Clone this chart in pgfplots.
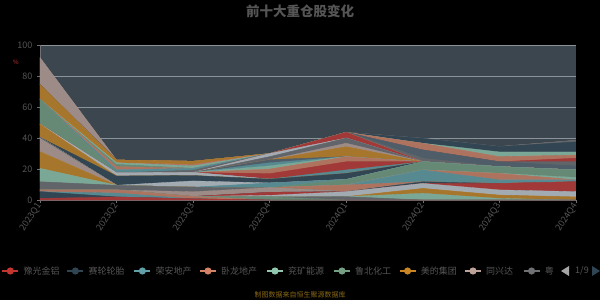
\documentclass[border=0pt]{standalone}
\usepackage{fontspec}
\setmainfont{Noto Sans CJK SC}
\usepackage{pgfplots}
\pgfplotsset{compat=1.18}
\definecolor{bgc}{HTML}{3B464E}
\definecolor{gridc}{HTML}{8A9399}
\definecolor{tickc}{HTML}{555555}
\definecolor{titc}{HTML}{555555}
\definecolor{footc}{HTML}{8B6A16}
\definecolor{c0}{HTML}{C23531}
\definecolor{c1}{HTML}{2F4554}
\definecolor{c2}{HTML}{61A0A8}
\definecolor{c3}{HTML}{D48265}
\definecolor{c4}{HTML}{91C7AE}
\definecolor{c5}{HTML}{749F83}
\definecolor{c6}{HTML}{CA8622}
\definecolor{c7}{HTML}{BDA29A}
\definecolor{c8}{HTML}{6E7074}
\definecolor{c9}{HTML}{546570}
\definecolor{c10}{HTML}{C4CCD3}
\newcommand\ser[9]{\addplot[fill=#1!75!bgc, draw=#1!85!bgc, line width=0.3pt] coordinates {(0,#2)(1,#3)(2,#4)(3,#5)(4,#6)(5,#7)(6,#8)(7,#9)} \closedcycle;}
\begin{document}
\begin{tikzpicture}[x=1pt,y=1pt]
\fill[black] (0,0) rectangle (600,300);
\node[font=\bfseries\fontsize{13.5}{14}\selectfont, text=titc] at (300,289) {前十大重仓股变化};
\node[font=\fontsize{6}{7}\selectfont, text=c0] at (16,238) {\%};
\begin{axis}[at={(40pt,100pt)}, anchor=south west, width=536pt, height=155pt, scale only axis,
  xmin=0, xmax=7, ymin=0, ymax=100, enlargelimits=false,
  stack plots=y,
  axis background/.style={fill=bgc},
  xtick={0,...,7},
  xticklabels={2023Q1,2023Q2,2023Q3,2023Q4,2024Q1,2024Q2,2024Q3,2024Q4},
  ytick={0,20,40,60,80,100},
  ymajorgrids, major grid style={draw=gridc, line width=0.6pt},
  axis x line*=bottom, axis y line*=left,
  axis line style={draw=c8, line width=0.6pt},
  tick style={draw=c8, line width=0.6pt},
  tick align=outside, major tick length=3pt,
  /pgf/number format/assume math mode=true,
  yticklabel style={font=\fontsize{9}{10}\selectfont, text=tickc, xshift=-1pt},
  xticklabel style={font=\fontsize{9}{10}\selectfont, text=tickc, rotate=57, anchor=east, inner sep=1pt},
]
\ser{c0}{1}{2}{0.8}{0}{0}{0}{0}{0}
\ser{c1}{4.4}{0}{0}{0}{0}{0}{0}{0}
\ser{c2}{0}{2.5}{0}{0}{0}{0}{0}{0}
\ser{c3}{1.1}{2}{1.5}{0}{0}{0}{0}{0}
\ser{c5}{0}{0}{0}{2}{0}{0}{0}{0}
\ser{c8}{0}{0}{0}{0}{2.2}{0}{0}{0}
\ser{c4}{0}{0}{0}{0}{0}{4.3}{1}{0}
\ser{c6}{0}{0}{0}{0}{0}{3.2}{2.2}{2}
\ser{c10}{0}{0}{0}{1}{3.2}{3.2}{3.3}{3.4}
\ser{c0}{0}{0}{0}{2}{0}{0}{4.2}{6.4}
\ser{c1}{0}{0}{0}{0}{0}{1.1}{0}{0}
\ser{c7}{0}{0}{3}{3}{0}{0}{0}{0}
\ser{c8}{5.3}{3}{3}{0}{0}{0}{0}{0}
\ser{c4}{8.6}{0}{0}{0}{0}{0}{0}{0}
\ser{c6}{10.8}{0}{0}{0}{0}{0}{0}{0}
\ser{c7}{8.6}{0}{0}{0}{0}{0}{0}{0}
\ser{c9}{0.6}{0}{0}{0}{0}{0}{0}{0}
\ser{c3}{0}{0}{0}{0}{4.3}{0}{0}{0}
\ser{c2}{0}{0}{0}{0}{0}{7.6}{2.3}{1.2}
\ser{c3}{0}{0}{0}{0}{0}{0}{4.2}{0}
\ser{c4}{0}{0}{0}{0}{0}{0}{0}{1.5}
\ser{c5}{0}{0}{0}{0}{3.6}{5.3}{4.3}{4.9}
\ser{c2}{0}{0}{0}{3}{0}{0}{0}{0}
\ser{c10}{0}{0}{4}{0}{0}{0}{0}{0}
\ser{c1}{0}{6}{3.5}{2.5}{3.9}{0}{0}{0}
\ser{c6}{8.6}{0}{0}{0}{0}{0}{0}{0}
\ser{c10}{0}{2}{2}{0}{0}{0}{0}{0}
\ser{c2}{0}{0}{0}{0}{2.2}{0}{0}{0}
\ser{c0}{0}{0}{0}{3.5}{5.3}{0}{0}{0}
\ser{c3}{0}{0}{0}{3}{3.3}{0}{0}{0}
\ser{c4}{0}{0}{0}{2}{0}{0}{0}{0}
\ser{c2}{0}{0}{0}{2}{0}{0}{0}{0}
\ser{c9}{0}{0}{0}{2}{0}{0}{0}{0}
\ser{c6}{0}{0}{0}{0}{6.4}{0}{0}{0}
\ser{c7}{0}{0}{0}{0}{2.2}{0}{0}{0}
\ser{c8}{0}{0}{0}{2}{3.4}{0}{0}{0}
\ser{c10}{0}{0}{0}{2}{0}{0}{0}{0}
\ser{c0}{0}{0}{0}{0}{3.7}{0}{0}{0}
\ser{c5}{16}{0}{0}{0}{0}{0}{0}{0}
\ser{c8}{0}{0}{1.5}{0}{0}{0}{0}{0}
\ser{c2}{0}{2}{1.2}{0}{0}{0}{0}{0}
\ser{c3}{0}{2}{0}{0}{0}{0}{0}{0}
\ser{c5}{0}{1.5}{0}{0}{0}{0}{0}{0}
\ser{c4}{0}{1}{1.5}{0}{0}{0}{0}{0}
\ser{c3}{0}{0}{1}{0}{0}{0}{0}{0}
\ser{c6}{0}{1.8}{2}{0}{0}{0}{0}{0}
\ser{c6}{9.5}{0}{0}{0}{0}{0}{0}{0}
\ser{c8}{0}{0}{0}{0}{0}{2.2}{0}{0}
\ser{c9}{0}{0}{0}{0}{0}{5.4}{3.2}{2.6}
\ser{c8}{0}{0}{0}{0}{0}{0}{0}{2.7}
\ser{c0}{0}{0}{0}{0}{0}{0}{0}{2.3}
\ser{c3}{0}{0}{0}{0}{0}{4.3}{3.3}{2}
\ser{c4}{0}{0}{0}{0}{0}{0}{3}{2}
\ser{c1}{0}{0}{0}{0}{0}{3.2}{3.5}{6.5}
\ser{c8}{0}{0}{0}{0}{0}{0}{0}{1}
\ser{c7}{17.4}{0}{0}{0}{0}{0}{0}{0}
\end{axis}
% legend
\foreach \xx/\cc/\tt in {10.3/c0/豫光金铝, 75.4/c1/赛轮轮胎, 142.4/c2/荣安地产, 208/c3/卧龙地产, 275/c4/兖矿能源, 342/c5/鲁北化工, 407.6/c6/美的集团, 473/c7/同兴达, 531.6/c8/粤} {
  \draw[\cc, line width=1.2pt] (\xx-8,29) -- (\xx+8,29);
  \fill[\cc] (\xx,29) circle (3.6);
  \node[anchor=west, font=\fontsize{9}{10}\selectfont, text=tickc, inner sep=0pt] at (\xx+13,29) {\tt};
}
\fill[gray!70] (561,29) -- (569,34) -- (569,24) -- cycle;
\node[font=\fontsize{9}{10}\selectfont, text=tickc] at (582,29) {1/9};
\fill[c1] (600,29) -- (592,34) -- (592,24) -- cycle;
\node[font=\fontsize{7}{8}\selectfont, text=footc] at (300,5) {制图数据来自恒生聚源数据库};
\end{tikzpicture}
\end{document}
